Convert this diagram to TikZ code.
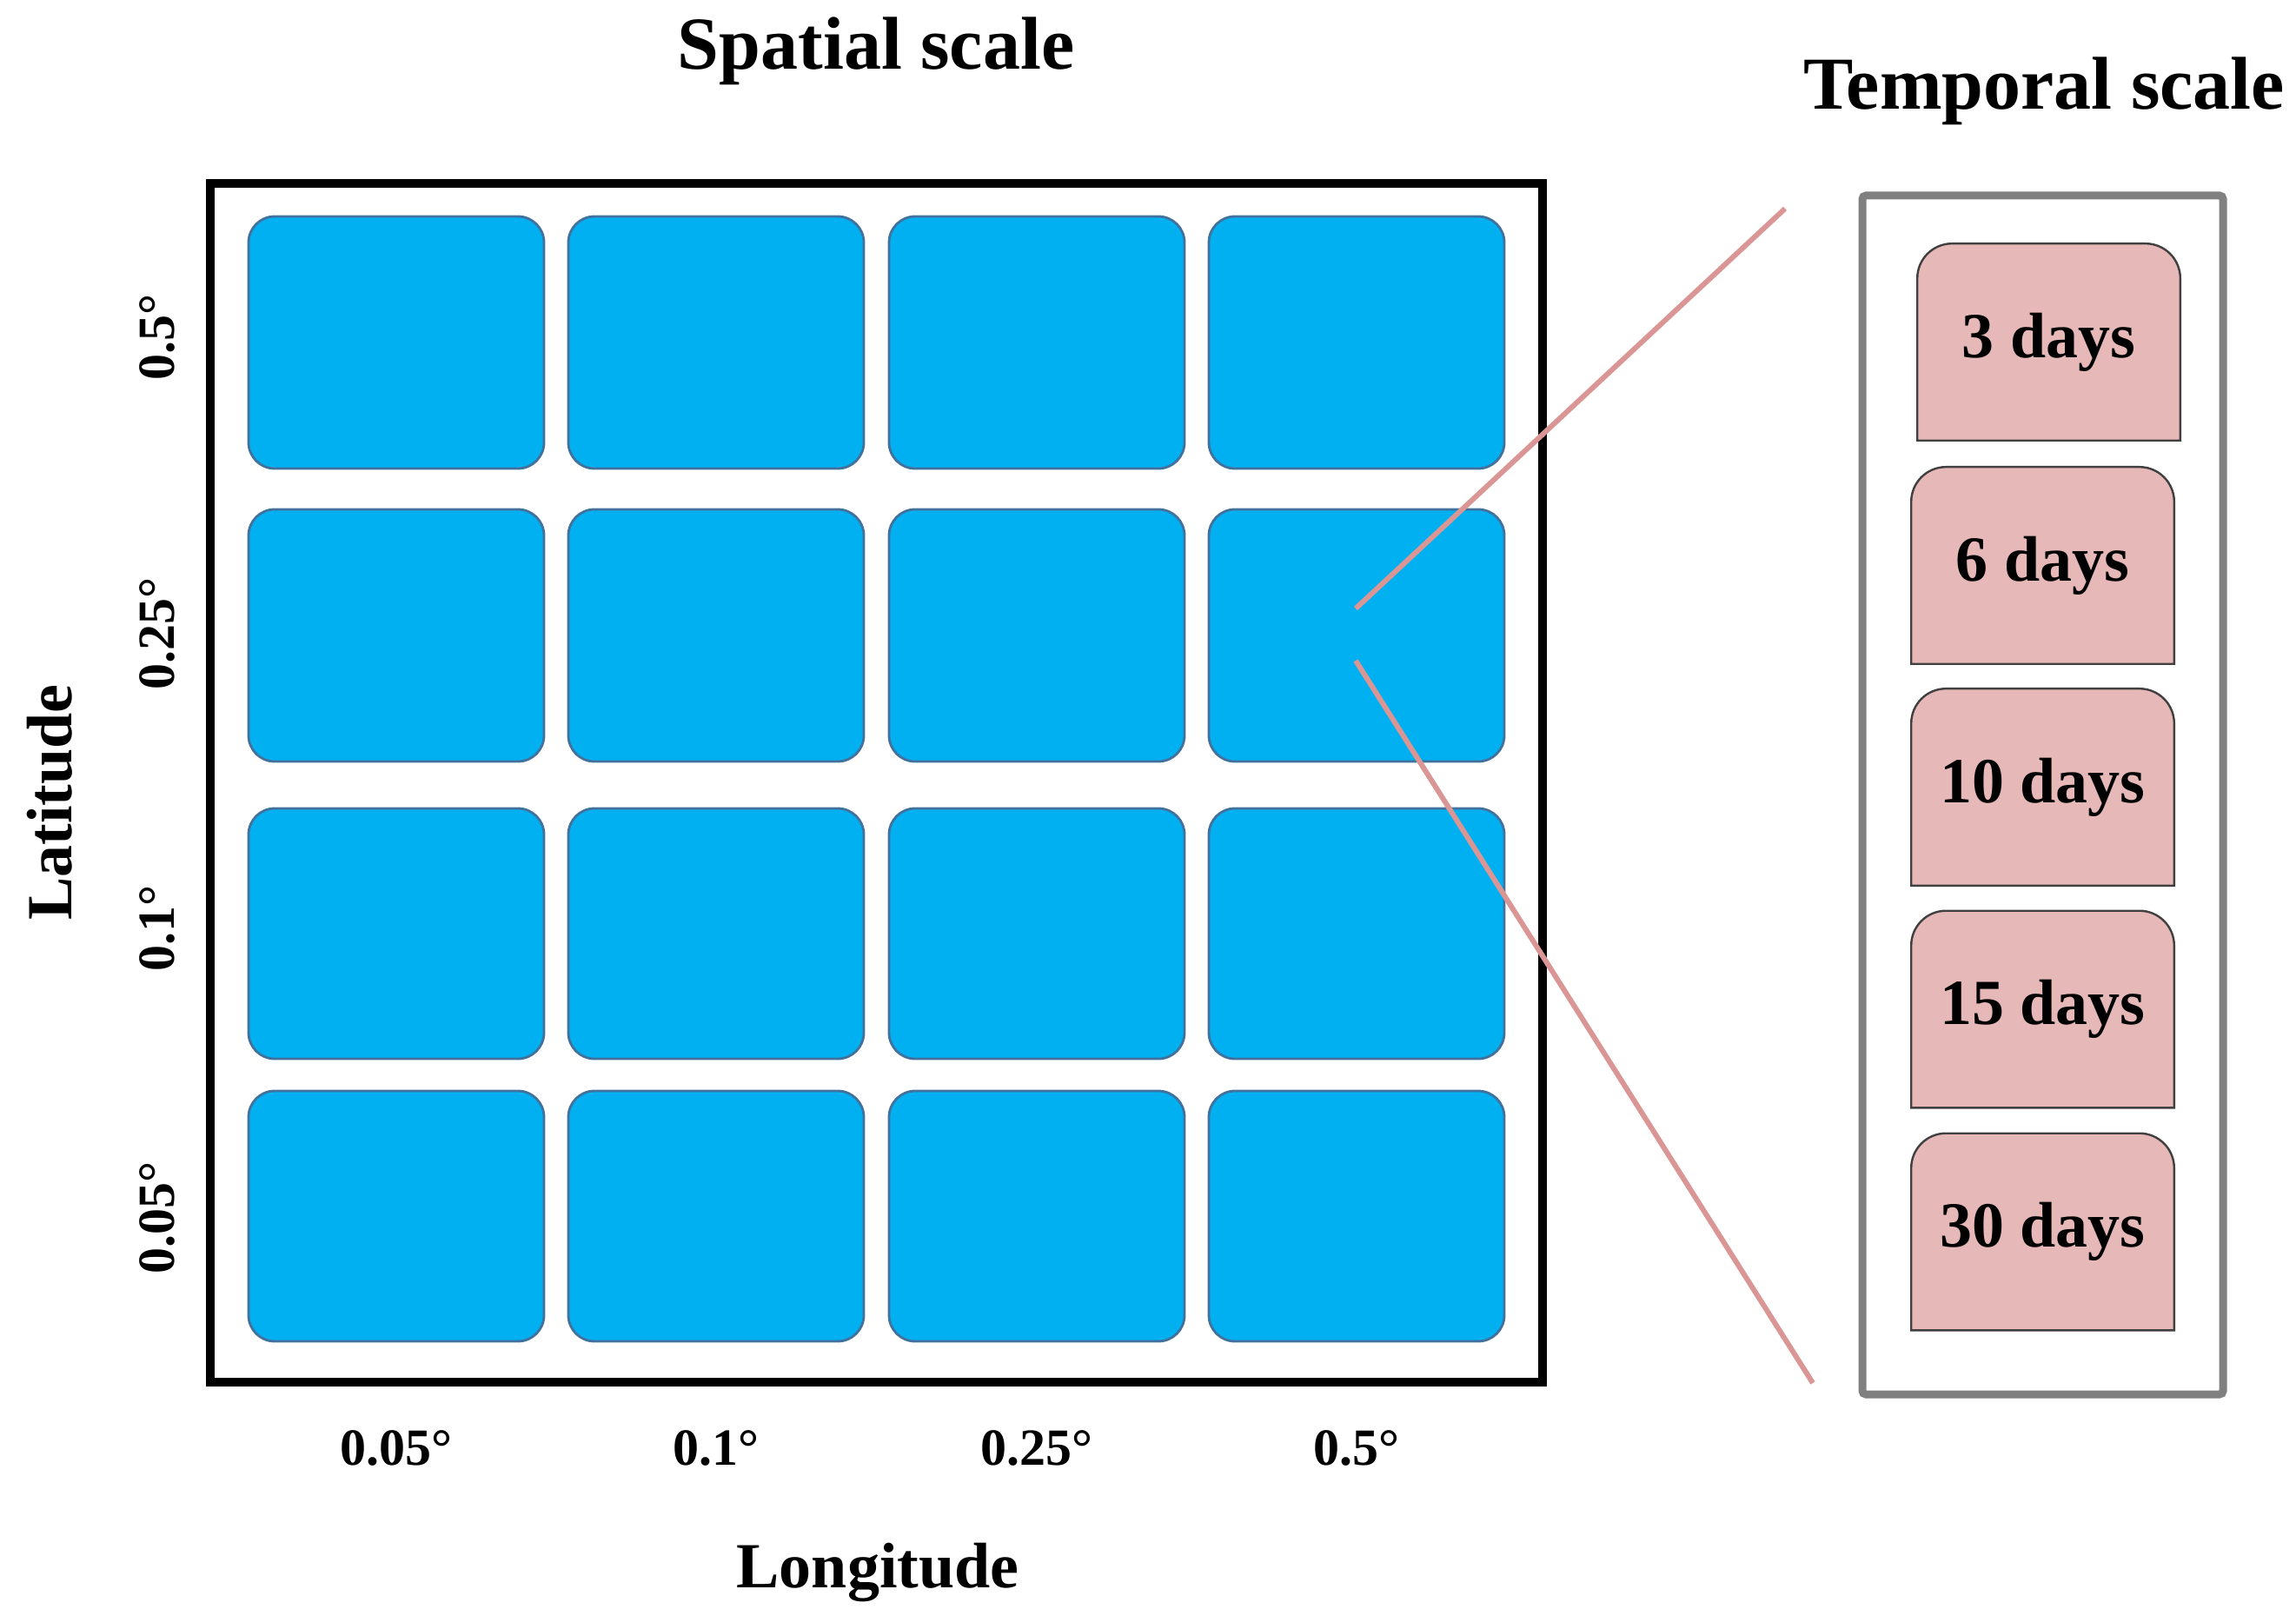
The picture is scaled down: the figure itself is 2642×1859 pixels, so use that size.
\documentclass[tikz,border=0pt]{standalone}
\usepackage{fontspec}
\setmainfont{Liberation Serif}
\usetikzlibrary{backgrounds}
\definecolor{cellblue}{RGB}{0,176,240}
\definecolor{celledge}{RGB}{65,113,156}
\definecolor{daypink}{RGB}{230,184,183}
\definecolor{dayedge}{RGB}{64,64,64}
\definecolor{zoomline}{RGB}{217,150,148}
\definecolor{tframe}{RGB}{128,128,128}
\tikzset{
  cell/.style={draw=celledge, fill=cellblue, line width=0.7pt, rounded corners=7.5pt,
    minimum width=85pt, minimum height=72.5pt, inner sep=0pt},
  daybox/.style={minimum width=75.25pt, minimum height=56.25pt, inner sep=0pt,
    font=\bfseries\fontsize{18.5}{20}\selectfont},
  dayshape/.style={draw=dayedge, fill=daypink, line width=0.6pt},
  title/.style={font=\bfseries\fontsize{21.5}{24}\selectfont, anchor=base},
  axislab/.style={font=\bfseries\fontsize{18.5}{20}\selectfont, anchor=base},
  ticklab/.style={font=\bfseries\fontsize{15}{17}\selectfont, anchor=base},
  zoomstyle/.style={draw=zoomline, line width=1.5pt},
}
\newcommand\dayshapedraw[1]{%
  \draw[dayshape] (#1.south west) -- ([yshift=-10pt]#1.north west)
    arc[start angle=180,end angle=90,radius=10pt]
    -- ([xshift=-10pt]#1.north east)
    arc[start angle=90,end angle=0,radius=10pt]
    -- (#1.south east) -- cycle;}
\begin{document}
\begin{tikzpicture}[x=0.25pt,y=-0.25pt]
\useasboundingbox (0,0) rectangle (2642,1859);
% titles
\node[title] (ts) at (1008,80) {Spatial scale};
\node[title] (tt) at (2352,126) {Temporal scale};
% spatial frame
\draw[line width=2.5pt] (242,211) rectangle (1775,1590);
% cells
\foreach \c/\x in {1/456,2/824,3/1193,4/1561}{
  \foreach \r/\y/\h in {1/394/290,2/731/290,3/1074/288,4/1399/288}{
    \node[cell, minimum height=\h*0.25pt] (b\r\c) at (\x,\y) {};
  }
}
% bottom tick labels
\node[ticklab] (lx1) at (456,1685) {0.05°};
\node[ticklab] (lx2) at (824,1685) {0.1°};
\node[ticklab] (lx3) at (1193,1685) {0.25°};
\node[ticklab] (lx4) at (1561,1685) {0.5°};
% left tick labels
\node[ticklab, rotate=90] (ly1) at (200,388) {0.5°};
\node[ticklab, rotate=90] (ly2) at (200,729) {0.25°};
\node[ticklab, rotate=90] (ly3) at (200,1068) {0.1°};
\node[ticklab, rotate=90] (ly4) at (200,1401) {0.05°};
% axis labels
\node[axislab] (lon) at (1010,1826) {Longitude};
\node[axislab, rotate=90] (lat) at (82,923) {Latitude};
% temporal frame
\draw[tframe, line width=2.25pt, rounded corners=1pt] (2143,225) rectangle (2558,1604);
% day boxes
\node[daybox] (d1) at (2357.5,393.5) {3 days};
\node[daybox] (d2) at (2350.5,650.5) {6 days};
\node[daybox] (d3) at (2350.5,905.5) {10 days};
\node[daybox] (d4) at (2350.5,1161) {15 days};
\node[daybox] (d5) at (2350.5,1417) {30 days};
\begin{scope}[on background layer]
  \dayshapedraw{d1}\dayshapedraw{d2}\dayshapedraw{d3}\dayshapedraw{d4}\dayshapedraw{d5}
\end{scope}
% zoom lines
\coordinate (za) at (1560,700);
\coordinate (zb) at (1560,760);
\coordinate (ta) at (2054,240);
\coordinate (tb) at (2086,1591);
\draw[zoomstyle] (za) -- (ta);
\draw[zoomstyle] (zb) -- (tb);
\end{tikzpicture}
\end{document}
